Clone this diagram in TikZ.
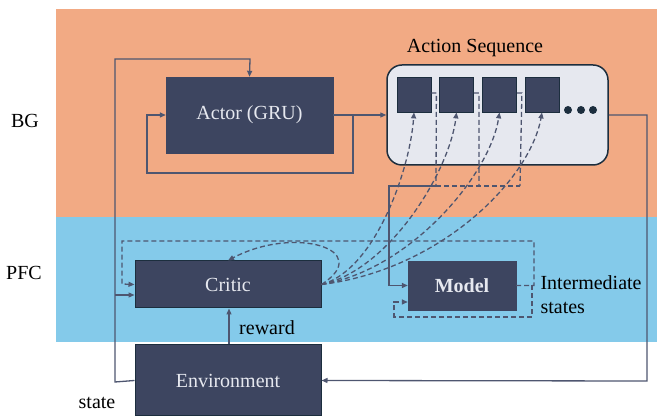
\documentclass[tikz,border=0pt]{standalone}
\usepackage{fontspec}
\setmainfont{Liberation Serif}
\usepackage{xcolor}
\usetikzlibrary{arrows.meta, positioning, calc}

\definecolor{bgorange}{HTML}{F2AA84}
\definecolor{pfcblue}{HTML}{84CAEA}
\definecolor{boxdark}{HTML}{3D4560}
\definecolor{seqfill}{HTML}{E6E8EF}
\definecolor{linegray}{HTML}{4E5670}
\definecolor{edgedark}{HTML}{1C2E3E}

\begin{document}
\begin{tikzpicture}[
  x=1pt,
  y=1pt,
  font=\fontsize{20}{24}\selectfont,
  block/.style={rectangle, fill=boxdark, draw=boxdark, text=seqfill, inner sep=0pt, align=center},
  slot/.style={rectangle, fill=boxdark, draw=edgedark, line width=0.8pt, minimum width=34pt, minimum height=35pt, inner sep=0pt},
  flow/.style={-{Triangle[length=6pt,width=5pt]}, draw=linegray, line width=1.3pt},
  dflow/.style={flow, dash pattern=on 5pt off 3pt},
  dline/.style={draw=linegray, line width=1.3pt, dash pattern=on 5pt off 3pt}
]
\useasboundingbox (0,0) rectangle (657,420);

% Regions
\fill[bgorange] (56,411) rectangle (657,203);
\fill[pfcblue] (56,203) rectangle (657,78);
\node (bg) at (25,299) {BG};
\node (pfc) at (24,147) {PFC};

% Blocks
\node[block, minimum width=167pt, minimum height=76pt] (actor) at (249.5,305) {Actor (GRU)};
\node[block, draw=edgedark, line width=1pt, minimum width=186pt, minimum height=47pt] (critic) at (228,135.5) {Critic};
\node[block, minimum width=108pt, minimum height=49pt, font=\fontsize{20}{24}\selectfont\bfseries] (model) at (462,134.5) {Model};
\node[block, draw=edgedark, line width=1pt, minimum width=186pt, minimum height=71pt] (env) at (228,39.5) {Environment};

% Action sequence
\node[rectangle, rounded corners=15pt, fill=seqfill, draw=edgedark, line width=1.5pt, minimum width=221pt, minimum height=100pt] (aseq) at (497.5,305) {};
\node (aseqlabel) at (475,372) {Action Sequence};
\node[slot] (sq1) at (414,325.5) {};
\node[slot] (sq2) at (456.5,325.5) {};
\node[slot] (sq3) at (499.5,325.5) {};
\node[slot] (sq4) at (542,325.5) {};
\foreach \dx in {568,581,593}
  \fill[edgedark] (\dx,310) circle (4);

% Labels
\node (reward) at (267,92) {reward};
\node (state) at (97,17) {state};
\node[anchor=west, align=left] (inter) at (537,125) {Intermediate\\states};

% Actor connections
\draw[flow] (actor.east) -- (actor.east -| aseq.west);
\draw[flow] (actor.east) -- (353,305) -- (353,247) -- (147,247) -- (147,305) -- (actor.west);
\draw[flow] (env.west) -- (115,38) -- (115,361) -- (250,361) -- (actor.north);
\draw[flow] (115,125) -- (115,125 -| critic.west);
\draw[flow] (env.north -| 229,0) -- (critic.south -| 229,0);
\draw[flow] (aseq.east) -- (647,305) -- (647,39) -- (env.east);

% Intermediate states loops
\draw[dflow] (model.east) -- (534,134.5) -- (534,179) -- (122,179) -- (122,136) -- (critic.west);
\draw[dflow] (532,134.5) -- (532,103) -- (394,103) -- (394,118) -- (394,118 -| model.west);

% Critic self loop
\draw[dflow] (critic.east) .. controls (375,170) and (295,195) .. (critic.north);

% Critic to action slots
\draw[dflow] (critic.east) .. controls (375,150) and (410,250) .. (sq1.south);
\draw[dflow] (critic.east) .. controls (390,150) and (450,250) .. (sq2.south);
\draw[dflow] (critic.east) .. controls (410,150) and (490,245) .. (sq3.south);
\draw[dflow] (critic.east) .. controls (440,150) and (530,240) .. (sq4.south);

% Action slots to model
\draw[dline] (sq1.east |- 0,327) -- ++(5,0) -- (436,234);
\draw[dline] (sq2.east |- 0,327) -- ++(5,0) -- (479,234);
\draw[dline] (sq3.east |- 0,327) -- ++(5,0) -- (520,234);
\draw[dline] (436,234) -- (520,234);
\draw[flow] (436,234) -- (389,234) -- (389,134.5) -- (model.west);

\end{tikzpicture}
\end{document}
